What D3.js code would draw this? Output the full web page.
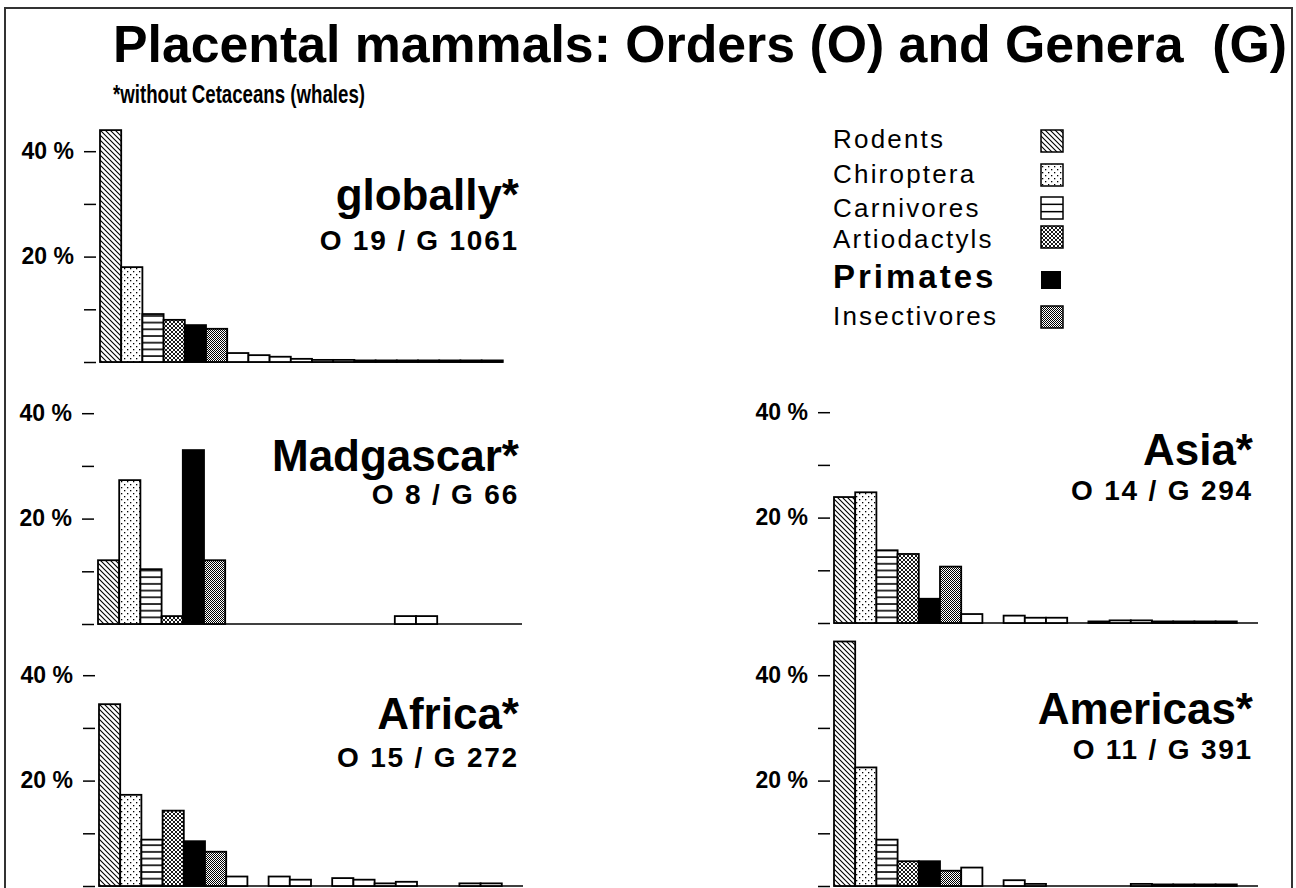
<!DOCTYPE html>
<html>
<head>
<meta charset="utf-8">
<script src="https://cdn.jsdelivr.net/npm/d3@7"></script>
<style>
  body { margin: 0; background: #fff; }
  text { font-family: "Liberation Sans", Arial, Helvetica, sans-serif; fill: #000; }
</style>
</head>
<body>
<div id="chart"></div>
<script>
// orders, in the fixed slot order used by every panel (only the first six are named in the legend)
const orders = ["Rodents", "Chiroptera", "Carnivores", "Artiodactyls", "Primates", "Insectivores",
  "o7", "o8", "o9", "o10", "o11", "o12", "o13", "o14", "o15", "o16", "o17", "o18", "o19", "o20"];

// share of genera in % per order slot (null = order absent)
const globally   = [44, 18, 9.1, 8, 7, 6.3, 1.7, 1.3, 1.0, 0.6, 0.4, 0.4, 0.3, 0.3, 0.3, 0.3, 0.3, 0.3, 0.3, null];
const madagascar = [12.1, 27.3, 10.4, 1.5, 33, 12.1, null, null, null, null, null, null, null, null, 1.5, 1.5, null, null, null, null];
const africa     = [34.5, 17.3, 8.8, 14.3, 8.5, 6.5, 1.8, null, 1.8, 1.2, null, 1.5, 1.2, 0.5, 0.8, null, null, 0.5, 0.5, null];
const asia       = [23.9, 24.8, 13.8, 13.1, 4.6, 10.7, 1.7, null, 1.4, 1.0, 1.0, null, 0.3, 0.5, 0.5, 0.3, 0.3, 0.3, 0.3, null];
const americas   = [46.4, 22.5, 8.8, 4.7, 4.7, 2.9, 3.5, null, 1.1, 0.4, null, null, null, null, 0.4, 0.3, 0.3, 0.3, 0.3, null];

const regionNames = ["globally*", "Madgascar*", "Asia*", "Africa*", "Americas*"];
const regionCounts = ["O 19 / G 1061", "O 8 / G 66", "O 14 / G 294", "O 15 / G 272", "O 11 / G 391"];
const yTicks = [0, 10, 20, 30, 40];

const W = 1296, H = 888;
const svg = d3.select("#chart").append("svg").attr("width", W).attr("height", H);

// patterns
const defs = svg.append("defs");
let p = defs.append("pattern").attr("id", "p0").attr("patternUnits", "userSpaceOnUse").attr("width", 5).attr("height", 5);
p.append("rect").attr("width", 5).attr("height", 5).attr("fill", "#fff");
p.append("path").attr("d", "M0,0L5,5M-1,4L1,6M4,-1L6,1").attr("stroke", "#000").attr("stroke-width", 1.1);

p = defs.append("pattern").attr("id", "p1").attr("patternUnits", "userSpaceOnUse").attr("width", 6).attr("height", 6);
p.append("rect").attr("width", 6).attr("height", 6).attr("fill", "#fff");
p.append("rect").attr("x", 1).attr("y", 1).attr("width", 1.3).attr("height", 1.3).attr("fill", "#000");
p.append("rect").attr("x", 4).attr("y", 4).attr("width", 1.3).attr("height", 1.3).attr("fill", "#000");

p = defs.append("pattern").attr("id", "p2").attr("patternUnits", "userSpaceOnUse").attr("width", 6).attr("height", 6.7);
p.append("rect").attr("width", 6).attr("height", 6.7).attr("fill", "#fff");
p.append("line").attr("x1", 0).attr("x2", 6).attr("y1", 1).attr("y2", 1).attr("stroke", "#000").attr("stroke-width", 1.6);

p = defs.append("pattern").attr("id", "p3").attr("patternUnits", "userSpaceOnUse").attr("width", 4).attr("height", 4);
p.append("rect").attr("width", 4).attr("height", 4).attr("fill", "#fff");
p.append("path").attr("d", "M0,0L4,4M4,0L0,4").attr("stroke", "#000").attr("stroke-width", 0.9);

p = defs.append("pattern").attr("id", "p5").attr("patternUnits", "userSpaceOnUse").attr("width", 2).attr("height", 2);
p.append("rect").attr("width", 2).attr("height", 2).attr("fill", "#fff");
p.append("rect").attr("width", 1).attr("height", 1).attr("fill", "#000");
p.append("rect").attr("x", 1).attr("y", 1).attr("width", 1).attr("height", 1).attr("fill", "#000");

const fills = ["url(#p0)", "url(#p1)", "url(#p2)", "url(#p3)", "#000", "url(#p5)"];
const fillOf = i => i < fills.length ? fills[i] : "#fff";

// frame
svg.append("rect").attr("x", 5).attr("y", 8).attr("width", 1287).attr("height", 900)
  .attr("fill", "none").attr("stroke", "#333").attr("stroke-width", 2);

// titles
svg.append("text").attr("x", 113).attr("y", 62).style("white-space", "pre")
  .attr("font-size", 52).attr("font-weight", "bold")
  .attr("textLength", 1174).attr("lengthAdjust", "spacingAndGlyphs")
  .text("Placental mammals: Orders (O) and Genera  (G)");
svg.append("text").attr("x", 113).attr("y", 103)
  .attr("font-size", 25).attr("font-weight", "bold")
  .attr("textLength", 252).attr("lengthAdjust", "spacingAndGlyphs")
  .text("*without Cetaceans (whales)");

// panels
const panels = [
  { data: globally,   x0: 100, base: 362, slots: 19, lx: 519,  ly: 210, sy: 250 },
  { data: madagascar, x0: 98,  base: 624, slots: 20, lx: 519,  ly: 471, sy: 504 },
  { data: asia,       x0: 834, base: 623, slots: 20, lx: 1253, ly: 465, sy: 500 },
  { data: africa,     x0: 99,  base: 886, slots: 20, lx: 519,  ly: 729, sy: 767 },
  { data: americas,   x0: 834, base: 886, slots: 20, lx: 1253, ly: 724, sy: 759 }
];

panels.forEach((pn, k) => {
  const x = d3.scaleBand().domain(d3.range(orders.length)).range([pn.x0, pn.x0 + 21.2 * orders.length]).padding(0);
  const y = d3.scaleLinear().domain([0, 50]).range([pn.base, pn.base - 263.5]);
  const g = svg.append("g");

  const ax = g.append("g").attr("transform", `translate(${pn.x0 - 4},0)`)
    .call(d3.axisLeft(y).tickValues(yTicks).tickSize(12).tickPadding(10)
      .tickFormat(d => (d === 20 || d === 40) ? d + " %" : ""));
  ax.select(".domain").remove();
  ax.selectAll("line").attr("stroke", "#000").attr("stroke-width", 1.5);
  ax.selectAll("text").attr("font-size", 23).attr("font-weight", "bold").attr("fill", "#000")
    .attr("font-family", "Liberation Sans, Arial, sans-serif");

  g.append("line").attr("x1", pn.x0).attr("x2", x(pn.slots - 1) + x.bandwidth())
    .attr("y1", pn.base).attr("y2", pn.base).attr("stroke", "#000").attr("stroke-width", 1.5);

  const vals = pn.data.map((v, i) => ({ i, v })).filter(d => d.v != null);
  g.selectAll("rect.bar").data(vals).enter().append("rect").attr("class", "bar")
    .attr("x", d => x(d.i)).attr("width", x.bandwidth())
    .attr("y", d => y(d.v)).attr("height", d => pn.base - y(d.v))
    .attr("fill", d => fillOf(d.i)).attr("stroke", "#000").attr("stroke-width", 1.8);

  g.append("text").attr("x", pn.lx).attr("y", pn.ly).attr("text-anchor", "end")
    .attr("font-size", 44).attr("font-weight", "bold").text(regionNames[k]);
  g.append("text").attr("x", pn.lx).attr("y", pn.sy).attr("text-anchor", "end")
    .attr("font-size", 28).attr("font-weight", "bold").attr("letter-spacing", 1.8).text(regionCounts[k]);
});

// legend
const legendY = [148, 183, 217, 248, 288, 325];
const boxY = [130, 164, 197, 226, 271, 306];
const lg = svg.append("g");
orders.slice(0, 6).forEach((name, i) => {
  const prim = name === "Primates";
  lg.append("text").attr("x", 833).attr("y", legendY[i])
    .attr("font-size", prim ? 33 : 26).attr("font-weight", prim ? "bold" : "normal")
    .attr("letter-spacing", prim ? 3 : 2.2).text(name);
  if (prim) {
    lg.append("rect").attr("x", 1041).attr("y", boxY[i]).attr("width", 20).attr("height", 18).attr("fill", "#000");
  } else if (i === 2) {
    lg.append("rect").attr("x", 1041).attr("y", boxY[i]).attr("width", 22).attr("height", 22)
      .attr("fill", "#fff").attr("stroke", "#000").attr("stroke-width", 1.5);
    [1, 2].forEach(j => lg.append("line").attr("x1", 1041).attr("x2", 1063)
      .attr("y1", boxY[i] + j * 22 / 3).attr("y2", boxY[i] + j * 22 / 3)
      .attr("stroke", "#000").attr("stroke-width", 1.5));
  } else {
    lg.append("rect").attr("x", 1041).attr("y", boxY[i]).attr("width", 22).attr("height", 22)
      .attr("fill", fills[i]).attr("stroke", "#000").attr("stroke-width", 1.5);
  }
});
</script>
</body>
</html>
